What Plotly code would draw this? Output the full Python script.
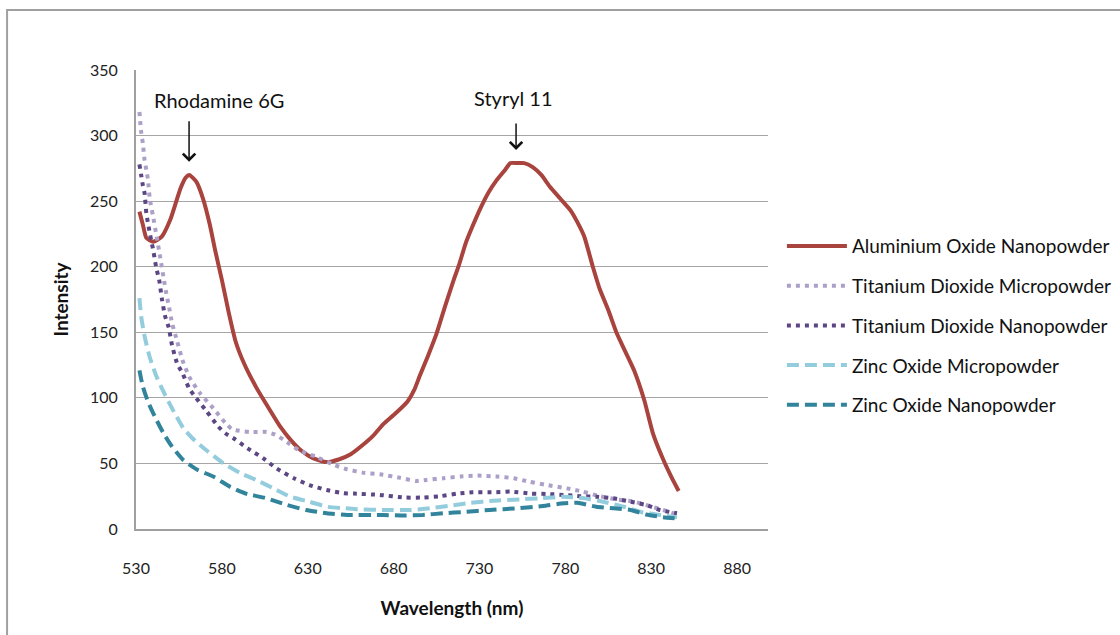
import plotly.graph_objects as go

# ---- data ----
al_x = [532, 534, 536, 540, 545, 550, 553, 556, 559, 561, 565, 569, 573, 576, 580, 584, 588, 593, 600, 605,
        614, 620, 626, 633, 641, 648, 655, 662, 668, 674, 681, 688, 692, 695, 700, 705, 710, 715, 718, 722,
        726, 730, 735, 740, 745, 748, 752, 756, 761, 766, 771, 777, 783, 787, 791, 796, 800, 805, 810, 815,
        820, 826, 831, 837, 842, 846]
al_y = [242, 232, 222, 219, 223, 236, 248, 260, 268, 270, 265, 252, 232, 213, 190, 165, 143, 126, 108, 97,
        78, 68, 60, 54, 51, 53, 57, 64, 71, 80, 88, 97, 106, 116, 132, 149, 170, 190, 201, 218,
        231, 243, 256, 266, 274, 279, 279, 279, 276, 270, 261, 252, 243, 234, 223, 200, 183, 167, 149, 135,
        121, 98, 73, 53, 39, 29]

tim_x = [532, 533, 534, 535, 536, 537, 538, 540, 542, 544, 546, 548, 549, 551, 554, 557, 561, 567, 575, 582,
         586, 596, 606, 611, 616, 625, 635, 645, 653, 662, 672, 684, 693, 699, 709, 719, 729, 740, 750, 759,
         769, 781, 790, 800, 810, 820, 829, 837, 845]
tim_y = [318, 303, 294, 281, 274, 266, 252, 238, 223, 208, 192, 177, 171, 157, 143, 129, 116, 104, 92, 81,
         76, 74, 74, 72, 68, 60, 55, 49, 45.5, 43, 41.7, 39, 36.6, 37.4, 38.7, 40, 40.7, 40, 38.7, 36,
         33.6, 31, 28.5, 25, 22.6, 20.8, 17.5, 14.5, 11]

tin_x = [532, 533, 534, 535, 536, 537, 538, 539, 540, 541, 542, 543.5, 545, 547, 549, 551, 554, 557, 561, 565,
         571, 578, 582, 587, 595, 604, 612, 622, 631, 641, 651, 657, 672, 686, 697, 707, 717, 726, 738, 748,
         760, 769, 779, 789, 798, 808, 818, 827, 835, 845]
tin_y = [278, 270, 262, 256, 241, 233, 226, 219, 213, 205, 198, 190, 176, 162, 154, 140, 126, 119, 107, 100,
         90, 78, 73, 69, 61.5, 54, 46, 38.7, 33.5, 29.7, 27.2, 27, 26, 24, 24, 25, 27, 28, 28, 28.5,
         27, 26.7, 26, 25, 24.6, 23.4, 20.8, 18.3, 14.5, 12]

zm_x = [532, 533, 535, 538, 542, 547, 552, 557.5, 563, 571, 581, 591, 600, 610, 620, 631, 641, 652, 659, 674,
        690, 701, 713, 725, 738, 754, 765, 779, 791, 802, 814, 824, 835, 845]
zm_y = [176, 162, 147, 131, 116, 102, 89.5, 77, 69, 60, 50, 42.5, 37.4, 31, 24.6, 20.8, 17, 15.8, 15, 14.5,
        14.5, 15.8, 17.8, 20, 21.6, 22.6, 23.4, 24.6, 23.4, 20.8, 17, 13, 10.7, 9]

zn_x = [532, 534, 537, 541, 546, 551, 557.5, 566, 575, 585, 594, 606, 618, 629, 641, 653, 674, 686, 697, 709,
        721, 736, 752, 767, 779, 787, 798, 808, 818, 827, 837, 845]
zn_y = [121, 108.5, 97, 85.6, 73, 62.8, 52.6, 45, 40, 32, 27, 23.4, 18.3, 14.5, 12, 10.7, 10.7, 10.2, 10.7, 12,
        13, 14.5, 15.8, 17.5, 19.6, 20, 17, 15.8, 14.5, 11, 9, 8]

names = ["Aluminium Oxide Nanopowder", "Titanium Dioxide Micropowder", "Titanium Dioxide Nanopowder",
         "Zinc Oxide Micropowder", "Zinc Oxide Nanopowder"]
x_ticks = [530, 580, 630, 680, 730, 780, 830, 880]
y_ticks = [0, 50, 100, 150, 200, 250, 300, 350]

FONT = "Lato"
fig = go.Figure()
series = [
    (al_x, al_y, dict(color="#A8433E", width=4, dash="solid")),
    (tim_x, tim_y, dict(color="#ADA0C8", width=4, dash="4px,5px")),
    (tin_x, tin_y, dict(color="#5C4683", width=4, dash="4px,5px")),
    (zm_x, zm_y, dict(color="#93CDDD", width=4, dash="12px,6px")),
    (zn_x, zn_y, dict(color="#31849B", width=4, dash="12px,6px")),
]
for i, ((xs, ys, ln), nm) in enumerate(zip(series, names)):
    ln = dict(ln, shape="spline", smoothing=0.5)
    fig.add_trace(go.Scatter(x=xs, y=ys, mode="lines", name=nm, line=ln,
                             legendgroup=str(i)))

# annotations: labels + arrows
fig.add_annotation(x=578.3, y=327, text="Rhodamine 6G", showarrow=False,
                   font=dict(family=FONT, size=20, color="#111"))
fig.add_annotation(x=560.9, y=280, ax=560.9, ay=312, axref="x", ayref="y", xref="x", yref="y",
                   text="", showarrow=True, arrowhead=4, arrowsize=1.6, arrowwidth=1.5, arrowcolor="#111")
fig.add_annotation(x=749.6, y=328.7, text="Styryl 11", showarrow=False,
                   font=dict(family=FONT, size=20, color="#111"))
fig.add_annotation(x=751.3, y=289, ax=751.3, ay=310.4, axref="x", ayref="y", xref="x", yref="y",
                   text="", showarrow=True, arrowhead=4, arrowsize=1.6, arrowwidth=1.5, arrowcolor="#111")

# outer chart border
fig.add_shape(type="rect", xref="paper", yref="paper", x0=-0.204, x1=1.6, y0=-0.5, y1=1.1307,
              line=dict(color="#A0A0A0", width=2), fillcolor="rgba(0,0,0,0)", layer="below")

fig.update_layout(
    width=1120, height=635,
    margin=dict(l=136, r=352, t=70, b=106, autoexpand=False),
    paper_bgcolor="white", plot_bgcolor="white",
    font=dict(family=FONT, size=16, color="#222"),
    showlegend=True,
    legend=dict(x=1.022, y=0.443, xanchor="left", yanchor="middle",
                font=dict(family=FONT, size=19, color="#111"),
                tracegroupgap=12, itemwidth=60, bgcolor="rgba(0,0,0,0)"),
    xaxis=dict(range=[530, 898], tickvals=x_ticks, ticktext=[str(v) for v in x_ticks],
               showgrid=False, zeroline=False, showline=True, linecolor="#A0A0A0", linewidth=2,
               ticks="", ticklabelstandoff=24, tickfont=dict(size=16, color="#222"),
               title=dict(text="<b>Wavelength (nm)</b>", standoff=25,
                          font=dict(family=FONT, size=19, color="#111"))),
    yaxis=dict(range=[0, 350], tickvals=y_ticks, ticktext=[str(v) for v in y_ticks],
               showgrid=True, gridcolor="#A6A6A6", gridwidth=1, zeroline=False,
               showline=True, linecolor="#A0A0A0", linewidth=2,
               ticks="", ticklabelstandoff=13, tickfont=dict(size=16, color="#222"),
               title=dict(text="<b>Intensity</b>", standoff=16,
                          font=dict(family=FONT, size=19, color="#111"))),
)

fig.write_html("out.html")
